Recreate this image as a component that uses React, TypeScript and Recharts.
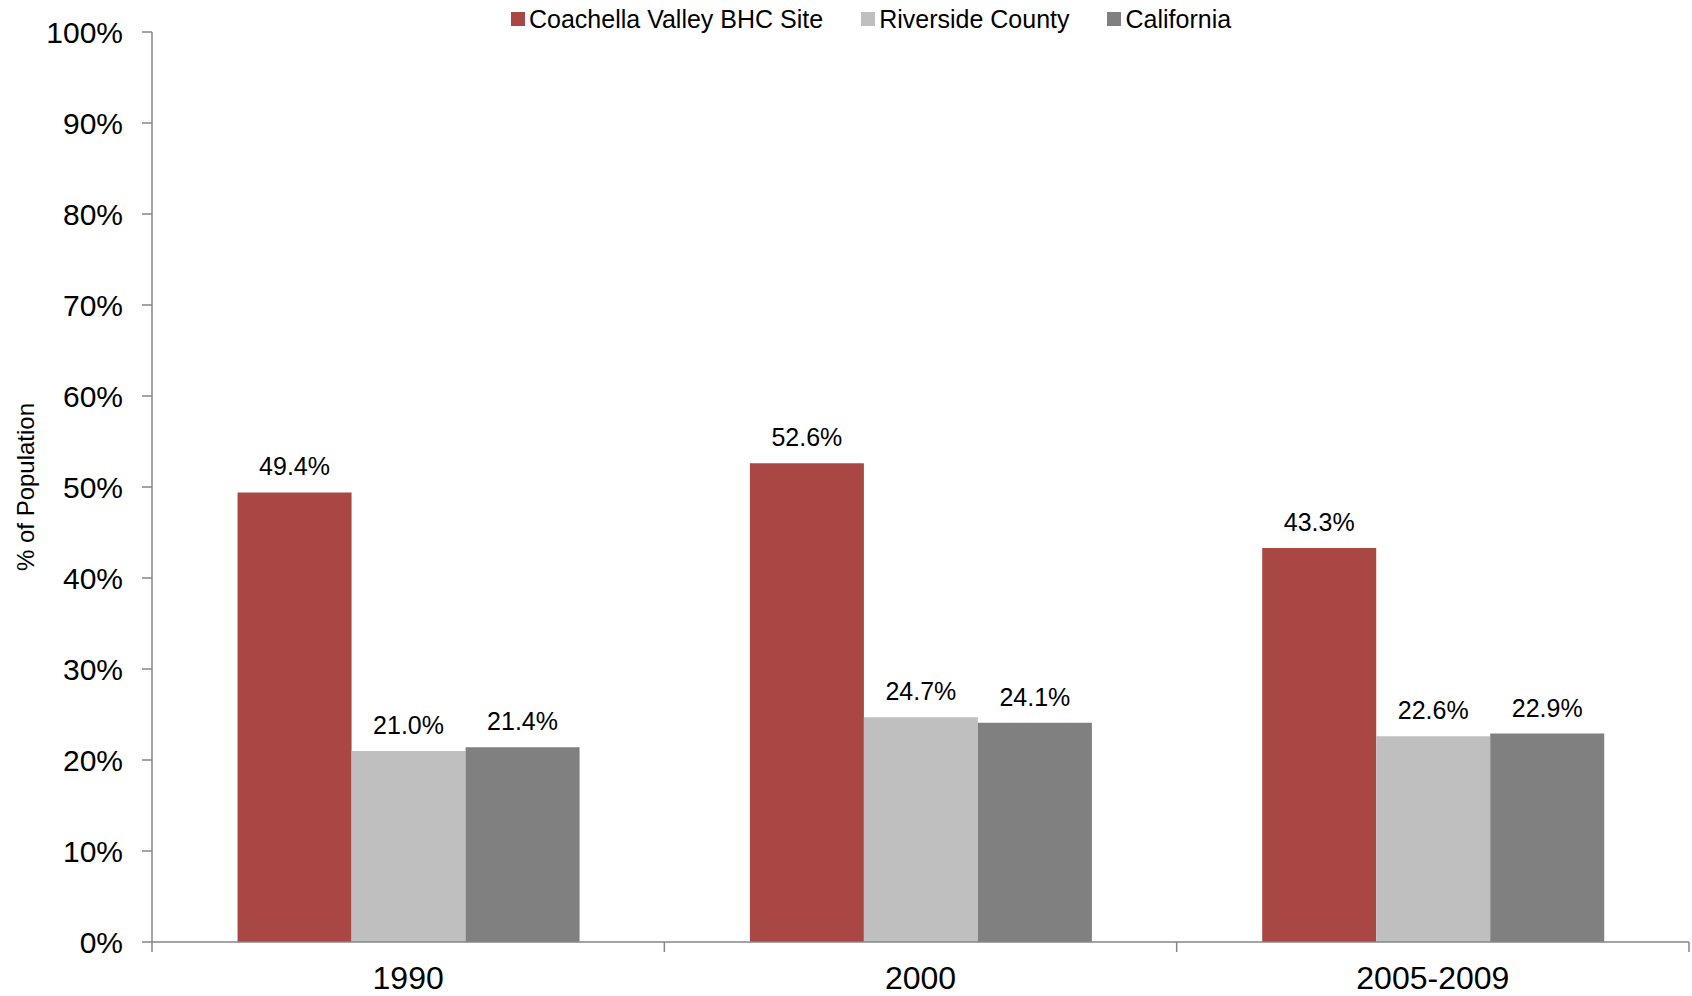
import { BarChart, Bar, XAxis, YAxis, Legend, LabelList } from 'recharts';

const categories = ['1990', '2000', '2005-2009'];
const coachella = [49.4, 52.6, 43.3];
const riverside = [21.0, 24.7, 22.6];
const california = [21.4, 24.1, 22.9];
const yTicks = [0, 10, 20, 30, 40, 50, 60, 70, 80, 90, 100];

const SERIES = [
    { key: 'coachella', name: 'Coachella Valley BHC Site', color: '#A94745' },
    { key: 'riverside', name: 'Riverside County', color: '#BFBFBF' },
    { key: 'california', name: 'California', color: '#808080' }
];

const data = categories.map((year, i) => ({
    year,
    coachella: coachella[i],
    riverside: riverside[i],
    california: california[i]
}));

const AXIS = '#868686';
const FONT = '"Liberation Sans", Arial, sans-serif';

// legend drawn by hand so it can sit over the plot without taking space
const LegendContent = () => (
    <div style={{ display: 'flex', alignItems: 'center', fontFamily: FONT, fontSize: 25, color: '#000', lineHeight: '34px' }}>
        {SERIES.map((s) => (
            <div key={s.key} style={{ display: 'flex', alignItems: 'center', marginRight: 38 }}>
                <span style={{ display: 'inline-block', width: 14, height: 14, background: s.color, marginRight: 4 }} />
                <span>{s.name}</span>
            </div>
        ))}
    </div>
);

// category label plus tick marks on the band edges (Excel style)
const CategoryTick = (props: any) => {
    const { x, y, width, visibleTicksCount, index, payload } = props;
    const band = width / visibleTicksCount;
    const axisY = y - 24;
    const left = x - band / 2;
    return (
        <g>
            <line x1={left} x2={left} y1={axisY} y2={axisY + 10} stroke={AXIS} strokeWidth={1.5} />
            {index === visibleTicksCount - 1 && (
                <line x1={x + band / 2} x2={x + band / 2} y1={axisY} y2={axisY + 10} stroke={AXIS} strokeWidth={1.5} />
            )}
            <text x={x} y={y} dy="0.71em" textAnchor="middle" fill="#000" fontSize={32} fontFamily={FONT}>
                {payload.value}
            </text>
        </g>
    );
};

export default function App() {
    return (
        <div style={{ position: 'absolute', left: 0, top: 0, width: 1692, height: 996, background: '#fff' }}>
            <BarChart
                width={1692}
                height={996}
                data={data}
                margin={{ top: 32, right: 3, bottom: 0, left: 0 }}
                barCategoryGap="16.7%"
                barGap={0}
            >
                <YAxis
                    width={152}
                    domain={[0, 100]}
                    ticks={yTicks}
                    interval={0}
                    tickFormatter={(v) => `${v}%`}
                    axisLine={{ stroke: AXIS, strokeWidth: 1.5 }}
                    tickLine={{ stroke: AXIS, strokeWidth: 1.5 }}
                    tickSize={10}
                    tickMargin={19}
                    tick={{ fill: '#000', fontSize: 30, fontFamily: FONT }}
                    label={{ value: '% of Population', angle: -90, position: 'insideLeft', offset: 25, style: { fill: '#000', fontSize: 24, fontFamily: FONT, textAnchor: 'middle' } }}
                />
                <XAxis
                    dataKey="year"
                    height={54}
                    interval={0}
                    axisLine={{ stroke: AXIS, strokeWidth: 1.5 }}
                    tickLine={false}
                    tickSize={10}
                    tickMargin={14}
                    tick={<CategoryTick />}
                />
                <Legend
                    verticalAlign="middle"
                    layout="horizontal"
                    content={<LegendContent />}
                    wrapperStyle={{ top: 2, left: 511, width: 'auto' }}
                />
                {SERIES.map((s) => (
                    <Bar key={s.key} dataKey={s.key} name={s.name} fill={s.color} isAnimationActive={false}>
                        <LabelList
                            dataKey={s.key}
                            position="top"
                            offset={17}
                            formatter={(v: number) => `${v.toFixed(1)}%`}
                            style={{ fill: '#000', fontSize: 25, fontFamily: FONT }}
                        />
                    </Bar>
                ))}
            </BarChart>
        </div>
    );
}
